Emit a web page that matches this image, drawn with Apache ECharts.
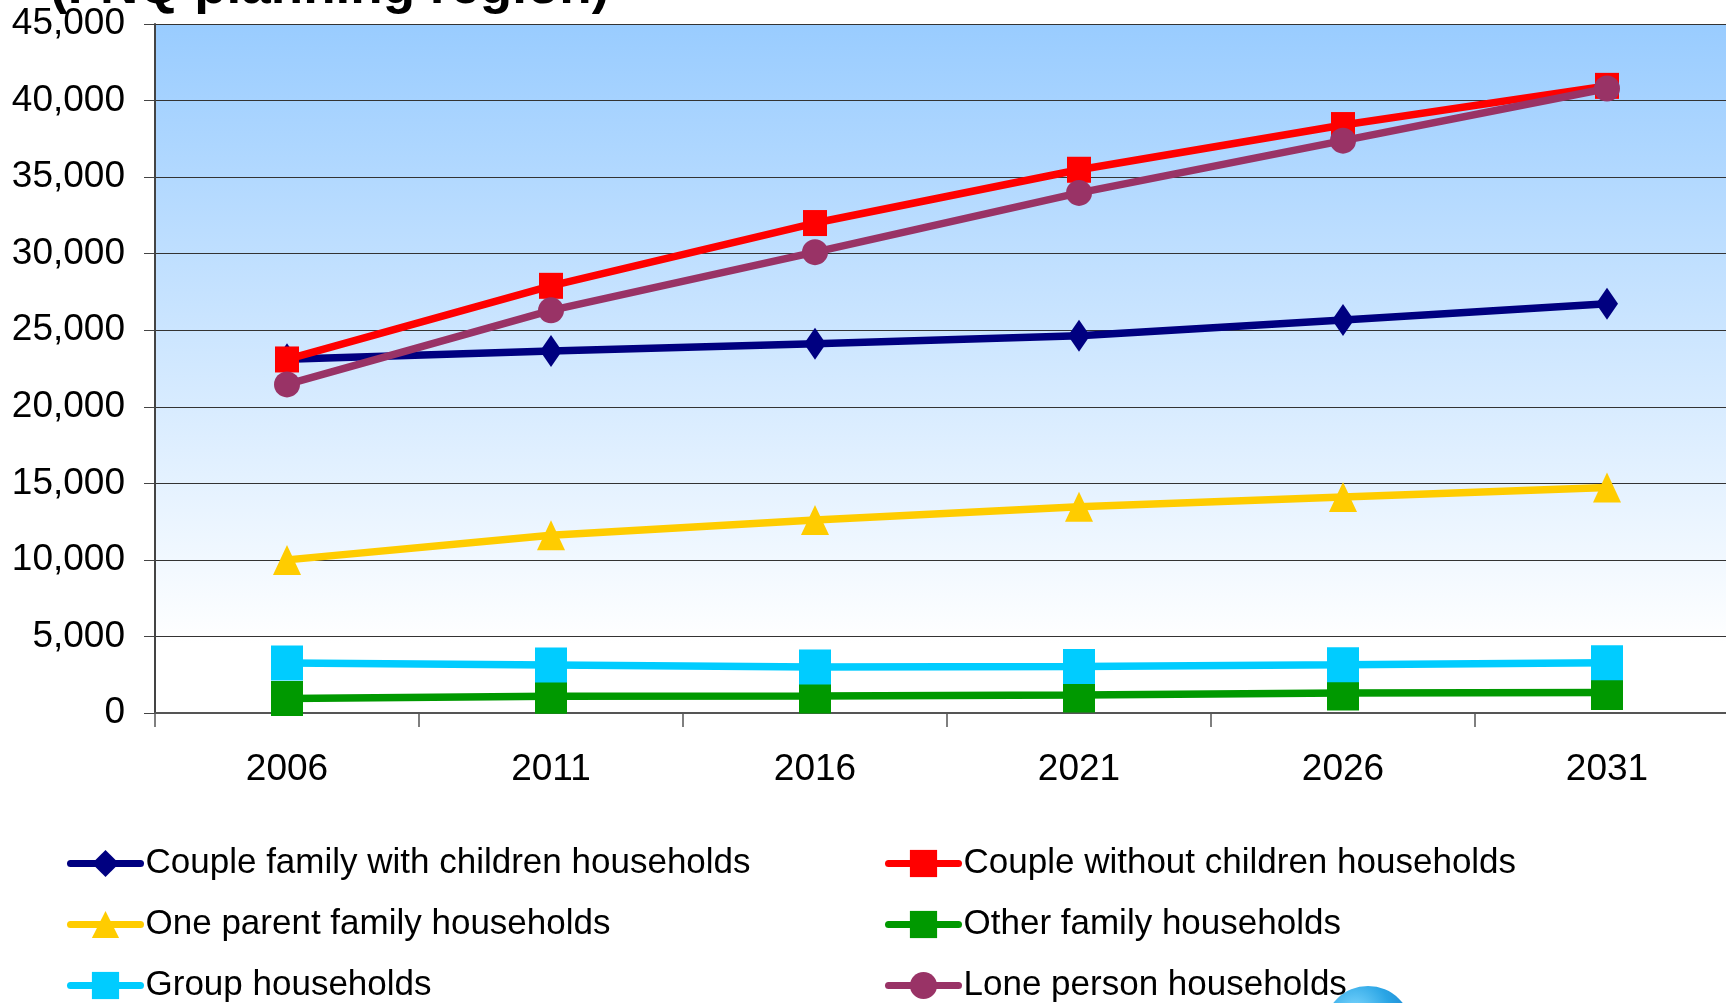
<!DOCTYPE html>
<html>
<head>
<meta charset="utf-8">
<script src="https://cdn.jsdelivr.net/npm/echarts@6/dist/echarts.min.js"></script>
<style>
html,body{margin:0;padding:0;background:#fff;}
#c{width:1726px;height:1003px;}
</style>
</head>
<body>
<div id="c"></div>
<script>
const titleText = '(FNQ planning region)';
const categories = ['2006', '2011', '2016', '2021', '2026', '2031'];
const seriesNames = [
  'Couple family with children households',
  'Couple without children households',
  'One parent family households',
  'Other family households',
  'Group households',
  'Lone person households'
];
const coupleWithChildren = [23100, 23640, 24120, 24640, 25660, 26730];
const coupleWithoutChildren = [23090, 27900, 32000, 35480, 38400, 40960];
const oneParent = [10000, 11610, 12610, 13470, 14100, 14720];
const otherFamily = [950, 1090, 1110, 1170, 1310, 1340];
const groupHouseholds = [3270, 3140, 3000, 3030, 3150, 3290];
const lonePerson = [21460, 26300, 30100, 33970, 37380, 40790];
const yMin = 0, yMax = 45000, yStep = 5000;

const FONT = '"Liberation Sans", Arial, sans-serif';
const chart = echarts.init(document.getElementById('c'), null, {renderer: 'canvas'});

function mk(name, data, color, symbol, size, z) {
  return {
    name: name, type: 'line', data: data, z: z,
    symbol: symbol, symbolSize: size,
    lineStyle: {color: color, width: 7.5},
    itemStyle: {color: color},
    emphasis: {disabled: true},
    animation: false
  };
}

const legendCommon = {
  orient: 'vertical', padding: 0, height: 250,
  itemWidth: 70, itemHeight: 34, itemGap: 26,
  textStyle: {fontFamily: FONT, fontSize: 35, lineHeight: 34, color: '#000'},
  lineStyle: {width: 7, cap: 'round'},
  selectedMode: false
};

chart.setOption({
  animation: false,
  backgroundColor: '#ffffff',
  graphic: [
    {type: 'text', left: 50, top: -38, silent: true,
     style: {text: titleText, font: 'bold 53px ' + FONT, fill: '#000'}},
    {type: 'circle', shape: {cx: 1368, cy: 1030, r: 44}, silent: true, z: -1,
     style: {fill: new echarts.graphic.RadialGradient(0.35, 0.3, 0.8, [
       {offset: 0, color: '#7fd8ff'}, {offset: 0.5, color: '#2aa5e5'}, {offset: 1, color: '#1a78c8'}])}}
  ],
  legend: [
    Object.assign({left: 67, top: 846, data: [seriesNames[0], seriesNames[2], seriesNames[4]]}, legendCommon),
    Object.assign({left: 885, top: 846, data: [seriesNames[1], seriesNames[3], seriesNames[5]]}, legendCommon)
  ],
  grid: {
    left: 155, top: 24, width: 1584, height: 689,
    outerBoundsMode: 'none',
    show: true, borderWidth: 0,
    backgroundColor: new echarts.graphic.LinearGradient(0, 0, 0, 1, [
      {offset: 0, color: '#99ccff'}, {offset: 0.9, color: '#ffffff'}, {offset: 1, color: '#ffffff'}])
  },
  xAxis: {
    type: 'category', data: categories, boundaryGap: true,
    axisLine: {lineStyle: {color: '#555', width: 2}},
    axisTick: {show: true, length: 14, lineStyle: {color: '#555', width: 1.5}},
    axisLabel: {fontFamily: FONT, fontSize: 37, color: '#000', margin: 38},
    splitLine: {show: false}
  },
  yAxis: {
    type: 'value', min: yMin, max: yMax, interval: yStep,
    axisLine: {show: true, lineStyle: {color: '#444', width: 2}},
    axisTick: {show: true, length: 11, lineStyle: {color: '#444', width: 1}},
    axisLabel: {fontFamily: FONT, fontSize: 37, color: '#000', margin: 30,
      formatter: function (v) { return v.toLocaleString('en-US'); }},
    splitLine: {show: true, lineStyle: {color: '#333', width: 1.2}}
  },
  series: [
    mk(seriesNames[0], coupleWithChildren, '#000080', 'diamond', [22, 32], 2),
    mk(seriesNames[1], coupleWithoutChildren, '#ff0000', 'rect', [24, 26], 3),
    mk(seriesNames[2], oneParent, '#ffcc00', 'triangle', [28, 30], 4),
    mk(seriesNames[3], otherFamily, '#009900', 'rect', [32, 35], 5),
    mk(seriesNames[4], groupHouseholds, '#00ccff', 'rect', [32, 35], 6),
    mk(seriesNames[5], lonePerson, '#993366', 'circle', 26, 7)
  ]
});
</script>
</body>
</html>
